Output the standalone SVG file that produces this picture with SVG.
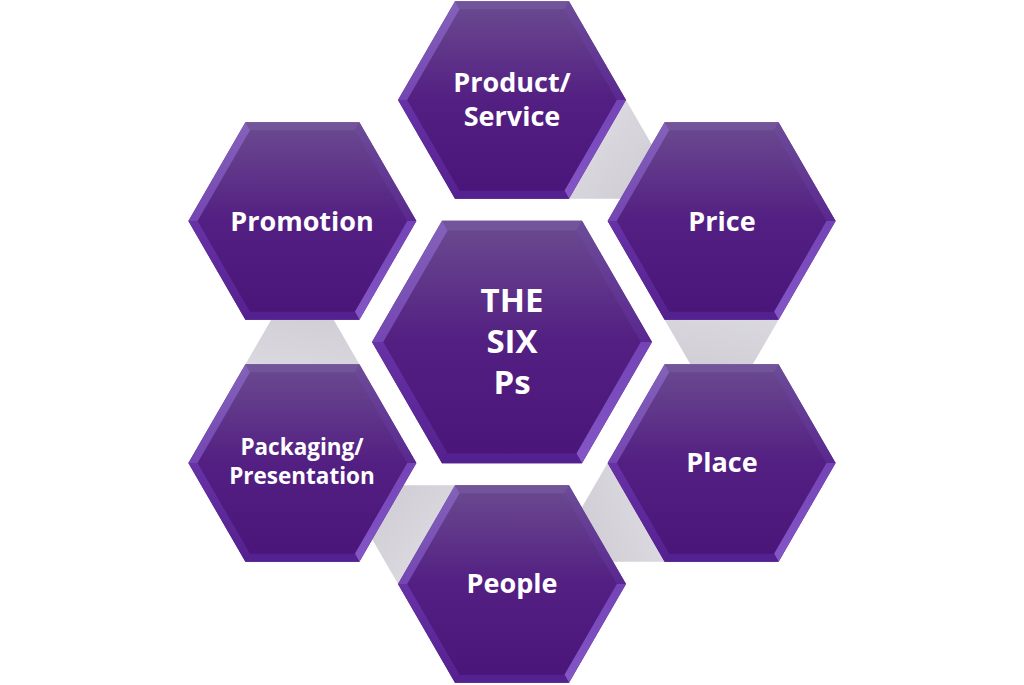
<svg xmlns="http://www.w3.org/2000/svg" xmlns:xlink="http://www.w3.org/1999/xlink" width="1024" height="685" viewBox="0 0 1024 685">
  <style>
    .lbl { font-family: "Open Sans", "Liberation Sans", sans-serif; font-weight: 700; fill: #ffffff; text-anchor: middle; }
    .big { font-size: 33px; }
    .mid { font-size: 27px; }
    .sml { font-size: 22.5px; }
  </style>
  <defs>
    <linearGradient id="face" x1="0" y1="0" x2="0" y2="1">
      <stop offset="0" stop-color="#6b4b90"/>
      <stop offset="0.5" stop-color="#531f82"/>
      <stop offset="1" stop-color="#4a1578"/>
    </linearGradient>
    <linearGradient id="gUL" x1="0" y1="0" x2="0" y2="1">
      <stop offset="0" stop-color="#8462ba"/>
      <stop offset="1" stop-color="#7446b2"/>
    </linearGradient>
    <linearGradient id="gLL" x1="0" y1="0" x2="0" y2="1">
      <stop offset="0" stop-color="#6632a6"/>
      <stop offset="1" stop-color="#55208e"/>
    </linearGradient>
    <linearGradient id="gUR" x1="0" y1="0" x2="0" y2="1">
      <stop offset="0" stop-color="#6c4c98"/>
      <stop offset="1" stop-color="#5a2890"/>
    </linearGradient>
    <linearGradient id="gLR" x1="0" y1="0" x2="0" y2="1">
      <stop offset="0" stop-color="#7444b6"/>
      <stop offset="1" stop-color="#8456c6"/>
    </linearGradient>
    <linearGradient id="gray" x1="0" y1="0" x2="1" y2="1">
      <stop offset="0" stop-color="#e2e0e6"/>
      <stop offset="1" stop-color="#cdcad3"/>
    </linearGradient>
    <g id="hexShape">
      <polygon points="-1,0 -0.5,-0.866 0.5,-0.866 1,0 0.5,0.866 -0.5,0.866" fill="url(#face)"/>
      <polygon points="-0.5,-0.866 0.5,-0.866 0.46,-0.797 -0.46,-0.797" fill="#72549a"/>
      <polygon points="0.5,-0.866 1,0 0.92,0 0.46,-0.797" fill="url(#gUR)"/>
      <polygon points="1,0 0.5,0.866 0.46,0.797 0.92,0" fill="url(#gLR)"/>
      <polygon points="0.5,0.866 -0.5,0.866 -0.46,0.797 0.46,0.797" fill="#542290"/>
      <polygon points="-0.5,0.866 -1,0 -0.92,0 -0.46,0.797" fill="url(#gLL)"/>
      <polygon points="-1,0 -0.5,-0.866 -0.46,-0.797 -0.92,0" fill="url(#gUL)"/>
    </g>
    <polygon id="conn" points="626,100 651.7,144.6 620.5,198.7 569,198.7" fill="url(#gray)"/>
  </defs>

  <rect width="1024" height="685" fill="#ffffff"/>

  <g id="connectors">
    <use xlink:href="#conn"/>
    <use xlink:href="#conn" transform="rotate(60 512 342)"/>
    <use xlink:href="#conn" transform="rotate(120 512 342)"/>
    <use xlink:href="#conn" transform="rotate(180 512 342)"/>
    <use xlink:href="#conn" transform="rotate(240 512 342)"/>
  </g>

  <g id="node-center">
    <use xlink:href="#hexShape" transform="translate(512,342) scale(140)"/>
    <text class="lbl big" x="512" y="312">THE</text>
    <text class="lbl big" x="512" y="353">SIX</text>
    <text class="lbl big" x="512" y="394">Ps</text>
  </g>

  <g id="node-product">
    <use xlink:href="#hexShape" transform="translate(512,100) scale(114)"/>
    <text class="lbl mid" x="512" y="92">Product/</text>
    <text class="lbl mid" x="512" y="126">Service</text>
  </g>

  <g id="node-price">
    <use xlink:href="#hexShape" transform="translate(721.6,221) scale(114)"/>
    <text class="lbl mid" x="722" y="231">Price</text>
  </g>

  <g id="node-place">
    <use xlink:href="#hexShape" transform="translate(721.6,463) scale(114)"/>
    <text class="lbl mid" x="722" y="472">Place</text>
  </g>

  <g id="node-people">
    <use xlink:href="#hexShape" transform="translate(512,584) scale(114)"/>
    <text class="lbl mid" x="512" y="593">People</text>
  </g>

  <g id="node-packaging">
    <use xlink:href="#hexShape" transform="translate(302.4,463) scale(114)"/>
    <text class="lbl sml" x="302" y="455">Packaging/</text>
    <text class="lbl sml" x="302" y="484">Presentation</text>
  </g>

  <g id="node-promotion">
    <use xlink:href="#hexShape" transform="translate(302.4,221) scale(114)"/>
    <text class="lbl mid" x="302" y="231">Promotion</text>
  </g>
</svg>
